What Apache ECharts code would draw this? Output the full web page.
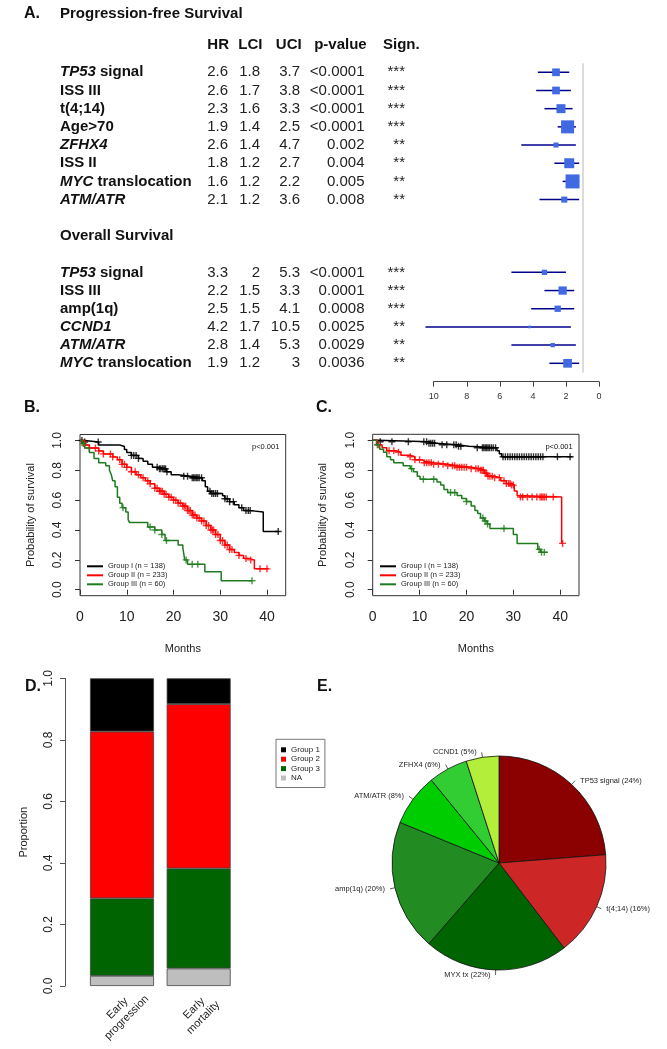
<!DOCTYPE html>
<html>
<head>
<meta charset="utf-8">
<script src="https://cdn.jsdelivr.net/npm/echarts@6/dist/echarts.min.js"></script>
<style>html,body{margin:0;padding:0;background:#fff}#main{width:667px;height:1049px}</style>
</head>
<body>
<div id="main"></div>
<script>
var myChart = echarts.init(document.getElementById('main'));

// ---- A. hazard ratios ----
var pfsGene = ['TP53', '', '', '', 'ZFHX4', '', 'MYC', 'ATM/ATR'];
var pfsText = [' signal', 'ISS III', 't(4;14)', 'Age>70', '', 'ISS II', ' translocation', ''];
var pfsHR = [2.6, 2.6, 2.3, 1.9, 2.6, 1.8, 1.6, 2.1];
var pfsLCI = [1.8, 1.7, 1.6, 1.4, 1.4, 1.2, 1.2, 1.2];
var pfsUCI = [3.7, 3.8, 3.3, 2.5, 4.7, 2.7, 2.2, 3.6];
var pfsP = ['<0.0001', '<0.0001', '<0.0001', '<0.0001', '0.002', '0.004', '0.005', '0.008'];
var pfsSign = ['***', '***', '***', '***', '**', '**', '**', '**'];
var pfsWeight = [0.55, 0.55, 0.64, 0.93, 0.36, 0.71, 1.0, 0.43];

var osGene = ['TP53', '', '', 'CCND1', 'ATM/ATR', 'MYC'];
var osText = [' signal', 'ISS III', 'amp(1q)', '', '', ' translocation'];
var osHR = [3.3, 2.2, 2.5, 4.2, 2.8, 1.9];
var osLCI = [2, 1.5, 1.5, 1.7, 1.4, 1.2];
var osUCI = [5.3, 3.3, 4.1, 10.5, 5.3, 3];
var osP = ['<0.0001', '0.0001', '0.0008', '0.0025', '0.0029', '0.0036'];
var osSign = ['***', '***', '***', '**', '**', '**'];
var osWeight = [0.38, 0.59, 0.45, 0.19, 0.31, 0.62];

// ---- B. progression-free survival (months, survival) ----
var pfsG1 = [[0,1],[1,0.99],[4,0.97],[8.5,0.96],[9.5,0.94],[10,0.92],[11,0.9],[12.5,0.88],[13.5,0.86],[14.5,0.84],[15.5,0.82],[17,0.81],[18.5,0.79],[19.5,0.77],[21,0.76],[23.5,0.75],[26.2,0.73],[26.8,0.69],[27.3,0.66],[28,0.645],[30.5,0.63],[31,0.61],[32,0.59],[33,0.57],[34,0.55],[35,0.53],[36.5,0.52],[39.2,0.39],[42.6,0.39]];
var pfsG2 = [[0,1],[1,0.97],[2,0.95],[4,0.93],[5,0.91],[7,0.89],[8,0.87],[9,0.84],[10,0.82],[11,0.79],[12,0.77],[13,0.75],[14,0.73],[15,0.71],[16,0.68],[17,0.66],[18,0.64],[19,0.62],[20,0.6],[21,0.58],[22,0.56],[23,0.53],[24,0.5],[25,0.48],[26,0.46],[27,0.43],[28,0.4],[29,0.37],[30,0.33],[31,0.3],[32,0.27],[33,0.25],[34,0.23],[35,0.21],[36,0.2],[37.3,0.14],[40.3,0.14]];
var pfsG3 = [[0,1],[0.5,0.98],[1,0.95],[2,0.92],[3,0.88],[4,0.85],[5.5,0.83],[6.3,0.8],[6.7,0.77],[7,0.73],[7.5,0.69],[8,0.62],[8.5,0.58],[9,0.55],[9.8,0.52],[10.3,0.47],[10.6,0.45],[14.5,0.42],[16,0.4],[17.5,0.37],[18.2,0.33],[21,0.3],[22,0.28],[22.4,0.2],[23,0.17],[26.7,0.12],[30.2,0.06],[36.8,0.06]];
var pfsG1Cens = [0.4, 1, 3.9, 11, 11.5, 12, 12.5, 16.5, 17, 17.3, 17.7, 18, 18.3, 18.6, 22.2, 23, 24, 24.3, 24.6, 24.9, 25.2, 25.5, 26, 27.8, 28.2, 28.6, 29, 29.4, 31, 31.5, 32, 32.8, 34.6, 35.5, 36, 36.4, 42.4];
var pfsG2Cens = [1, 2, 3.3, 4, 5, 6.5, 7, 8.5, 9, 9.5, 10, 11, 11.8, 12.5, 13.5, 14.5, 15, 16, 16.5, 17, 17.3, 17.6, 18, 18.4, 19, 19.5, 20, 20.5, 21, 21.5, 22, 22.3, 22.6, 23, 23.3, 23.6, 24, 24.3, 24.6, 25, 25.5, 26, 26.5, 27, 27.5, 28, 28.3, 28.6, 29, 29.5, 30, 30.5, 31, 31.5, 32, 32.5, 34, 35.5, 36.5, 38.5, 40];
var pfsG3Cens = [0.7, 9.2, 15, 16, 17.5, 18.5, 22.7, 24, 25.2, 36.8];

// ---- C. overall survival ----
var osG1 = [[0,1],[1,0.99],[12,0.98],[13.5,0.97],[18,0.96],[20.5,0.95],[26.5,0.93],[27,0.91],[27.5,0.89],[42.6,0.89]];
var osG2 = [[0,1],[1,0.97],[2,0.95],[3,0.93],[5,0.92],[6,0.9],[8,0.89],[9,0.87],[10.5,0.86],[11,0.85],[13,0.84],[16,0.83],[18,0.82],[21,0.81],[23,0.8],[23.8,0.78],[24.5,0.76],[26,0.75],[27.3,0.73],[28.5,0.71],[29.5,0.7],[30.2,0.66],[30.8,0.63],[31,0.62],[40.3,0.31],[40.5,0.31]];
var osG3 = [[0,1],[0.8,0.97],[1.5,0.94],[2.3,0.92],[3,0.89],[3.8,0.87],[4.5,0.85],[6.5,0.83],[8,0.81],[8.7,0.79],[9.5,0.76],[10.1,0.74],[13.7,0.72],[14.5,0.7],[15.2,0.67],[16,0.65],[18,0.63],[19,0.61],[20,0.59],[21,0.56],[21.8,0.53],[22.4,0.51],[23,0.48],[23.8,0.46],[24.4,0.44],[25,0.41],[30,0.37],[30.8,0.31],[35.2,0.27],[35.8,0.25],[37.3,0.25]];
var osG1Cens = [1.6, 4.1, 7.6, 10.9, 11.5, 12, 12.4, 12.8, 13.2, 14.8, 15.8, 17.3, 17.8, 18.3, 18.8, 22.3, 23.4, 23.7, 24, 24.3, 24.6, 24.9, 25.3, 25.7, 26.2, 27.8, 28.3, 28.8, 29.3, 29.8, 30.3, 30.8, 31.3, 31.8, 32.3, 32.8, 33.3, 33.8, 34.3, 34.8, 35.3, 35.8, 36.3, 39.4, 42.1];
var osG2Cens = [1.2, 3.5, 4.5, 5.5, 8, 9, 10, 11, 11.5, 12, 12.5, 13, 14, 15, 16, 17, 17.5, 18, 18.5, 19, 19.5, 20, 21, 22, 22.5, 23, 23.3, 23.6, 24, 24.3, 24.6, 25, 25.5, 26, 27, 28, 28.5, 29, 29.3, 29.6, 30, 31.5, 32, 33, 34, 35, 35.7, 36, 36.3, 36.6, 37, 38.5, 40.5];
var osG3Cens = [1, 8.3, 10.8, 13, 16.6, 17.5, 20, 23.5, 24, 24.5, 28, 35.5, 36, 36.6];

var groupNames = ['Group I (n = 138)', 'Group II (n = 233)', 'Group III (n = 60)'];
var monthTicks = [0, 10, 20, 30, 40];
var probTicks = [0, 0.2, 0.4, 0.6, 0.8, 1];

// ---- D. proportions ----
var barCats = ['Early\nprogression', 'Early\nmortality'];
var barNA = [0.033, 0.057];
var barG3 = [0.252, 0.325];
var barG2 = [0.542, 0.534];
var barG1 = [0.173, 0.084];

// ---- E. pie ----
var pieNames = ['TP53 signal', 't(4;14)', 'MYX tx', 'amp(1q)', 'ATM/ATR', 'ZFHX4', 'CCND1'];
var piePct = [24, 16, 22, 20, 8, 6, 5];
var pieColors = ['#8B0000', '#CD2626', '#006400', '#228B22', '#00CD00', '#32CD32', '#B3EE3A'];

var FONT = '"Liberation Sans", Arial, sans-serif';
var kmColors = ['#000000', '#FF0000', '#1E7B1E'];
var plus = 'path://M4,0H6V4H10V6H6V10H4V6H0V4H4Z';

// table rows for the forest plot
var rows = [];
function addRows(gene, text, hr, lci, uci, p, sign, w) {
    for (var i = 0; i < hr.length; i++) {
        rows.push({gene: gene[i], text: text[i], hr: hr[i], lci: lci[i], uci: uci[i], p: p[i], sign: sign[i], w: w[i]});
    }
}
addRows(pfsGene, pfsText, pfsHR, pfsLCI, pfsUCI, pfsP, pfsSign, pfsWeight);
rows.push({});
rows.push({heading: 'Overall Survival'});
rows.push({});
addRows(osGene, osText, osHR, osLCI, osUCI, osP, osSign, osWeight);

var forestData = [];
rows.forEach(function (r, i) {
    if (r.hr != null) forestData.push([i, r.hr, r.lci, r.uci, r.w]);
});

function survAt(curve, t) {
    var s = curve[0][1];
    for (var k = 0; k < curve.length; k++) if (curve[k][0] <= t) s = curve[k][1];
    return s;
}

function kmSeries(axis, curves, cens) {
    var out = [];
    curves.forEach(function (c, g) {
        out.push({
            type: 'line', name: groupNames[g], xAxisIndex: axis, yAxisIndex: axis,
            data: c, step: 'end', symbol: 'none',
            lineStyle: {width: 1.5, color: kmColors[g]}, itemStyle: {color: kmColors[g]}
        });
        out.push({
            type: 'scatter', name: 'cens' + axis + g, xAxisIndex: axis, yAxisIndex: axis,
            data: cens[g].map(function (t) { return [t, survAt(c, t)]; }),
            symbol: plus, symbolSize: 7, itemStyle: {color: kmColors[g]}
        });
    });
    return out;
}

function kmX(gi) {
    return {
        gridIndex: gi, type: 'value', min: 0, max: 44,
        axisLine: {show: false}, splitLine: {show: false},
        axisTick: {show: true, customValues: monthTicks, length: 5, lineStyle: {color: '#333'}},
        axisLabel: {customValues: monthTicks, fontSize: 14, color: '#222', margin: 14},
        name: 'Months', nameLocation: 'middle', nameGap: 48,
        nameTextStyle: {fontSize: 11, color: '#222'}
    };
}
function kmY(gi) {
    return {
        gridIndex: gi, type: 'value', min: -0.04, max: 1.04,
        axisLine: {show: false}, splitLine: {show: false},
        axisTick: {show: true, customValues: probTicks, length: 5, lineStyle: {color: '#333'}},
        axisLabel: {customValues: probTicks, rotate: 90, fontSize: 12, color: '#222', margin: 16,
            formatter: function (v) { return v.toFixed(1); }},
        name: 'Probability of survival', nameLocation: 'middle', nameGap: 44,
        nameTextStyle: {fontSize: 11, color: '#222'}
    };
}

function txt(x, y, s, font, align) {
    return {type: 'text', x: x, y: y, silent: true,
        style: {text: s, font: font, fill: '#111', align: align || 'left', verticalAlign: 'middle'}};
}

var bold15 = 'bold 15px ' + FONT;
var bold16 = 'bold 16px ' + FONT;

option = {
    animation: false,
    textStyle: {fontFamily: FONT},
    grid: [
        {left: 433.7, width: 165.3, top: 63.2, height: 309.2},
        {left: 80, width: 205.7, top: 434.5, height: 161.2, show: true, borderColor: '#333', borderWidth: 1},
        {left: 372.7, width: 206.3, top: 434.3, height: 161.4, show: true, borderColor: '#333', borderWidth: 1},
        {left: 83.65, width: 153.35, top: 678.3, height: 307.7}
    ],
    xAxis: [
        {gridIndex: 0, type: 'value', min: 0, max: 10, interval: 2, inverse: true, offset: 9.3,
            axisLine: {show: true, lineStyle: {color: '#444'}},
            axisTick: {show: true, length: 5, lineStyle: {color: '#444'}},
            axisLabel: {fontSize: 9, color: '#333', margin: 10}, splitLine: {show: false}},
        kmX(1),
        kmX(2),
        {gridIndex: 3, type: 'category', data: barCats,
            axisLine: {show: false}, axisTick: {show: false},
            axisLabel: {rotate: 45, align: 'center', verticalAlign: 'middle',
                fontSize: 11, lineHeight: 13, color: '#222', margin: 27}}
    ],
    yAxis: [
        {gridIndex: 0, type: 'category', inverse: true,
            data: rows.map(function (r, i) { return 'r' + i; }),
            axisLine: {show: false}, axisTick: {show: false},
            axisLabel: {
                interval: 0, margin: 28.7, width: 345, color: '#111', fontSize: 15,
                formatter: function (v, i) {
                    var r = rows[i];
                    if (r.heading) return '{nb|' + r.heading + '}';
                    if (r.hr == null) return '';
                    var s = '';
                    if (r.gene) s += '{ni|' + r.gene + '}';
                    if (r.text) s += '{nb|' + r.text + '}';
                    return s + '{hr|' + r.hr + '}{lci|' + r.lci + '}{uci|' + r.uci + '}{p|' + r.p + '}{sg|' + r.sign + '}';
                },
                rich: {
                    ni: {fontSize: 15, fontWeight: 'bold', fontStyle: 'italic', align: 'left', color: '#111'},
                    nb: {fontSize: 15, fontWeight: 'bold', align: 'left', color: '#111'},
                    hr: {fontSize: 15, width: 28, align: 'right', color: '#222'},
                    lci: {fontSize: 15, width: 32, align: 'right', color: '#222'},
                    uci: {fontSize: 15, width: 40, align: 'right', color: '#222'},
                    p: {fontSize: 15, width: 64.5, align: 'right', color: '#222'},
                    sg: {fontSize: 15, width: 40.5, align: 'right', color: '#222'}
                }
            }},
        kmY(1),
        kmY(2),
        {gridIndex: 3, type: 'value', min: 0, max: 1, interval: 0.2, offset: 18.65,
            axisLine: {show: true, lineStyle: {color: '#555'}},
            axisTick: {show: true, length: 5, lineStyle: {color: '#555'}},
            axisLabel: {rotate: 90, fontSize: 12, color: '#222', margin: 10,
                formatter: function (v) { return v.toFixed(1); }},
            splitLine: {show: false},
            name: 'Proportion', nameLocation: 'middle', nameGap: 36,
            nameTextStyle: {fontSize: 11, color: '#222'}}
    ],
    legend: [
        {data: groupNames, left: 87, top: 561.8, orient: 'vertical', icon: 'rect',
            itemWidth: 16, itemHeight: 2, itemGap: 0, padding: 0, selectedMode: false,
            textStyle: {fontSize: 7.5, lineHeight: 9, color: '#222'}},
        {data: groupNames, left: 380, top: 561.8, orient: 'vertical', icon: 'rect',
            itemWidth: 16, itemHeight: 2, itemGap: 0, padding: 0, selectedMode: false,
            textStyle: {fontSize: 7.5, lineHeight: 9, color: '#222'}},
        {data: ['Group 1', 'Group 2', 'Group 3', 'NA'], left: 276, top: 739.3, orient: 'vertical',
            icon: 'rect', itemWidth: 5, itemHeight: 5, itemGap: 0.4, padding: [6, 5, 5, 5],
            borderColor: '#777', borderWidth: 1, selectedMode: false,
            itemStyle: {borderWidth: 0},
            textStyle: {fontSize: 8, lineHeight: 9, color: '#222'}}
    ],
    graphic: [
        txt(24, 14, 'A.', bold16),
        txt(60, 14, 'Progression-free Survival', bold15),
        txt(229, 45, 'HR', bold15, 'right'),
        txt(262.5, 45, 'LCI', bold15, 'right'),
        txt(301.7, 45, 'UCI', bold15, 'right'),
        txt(366.7, 45, 'p-value', bold15, 'right'),
        txt(383, 45, 'Sign.', bold15),
        txt(24, 408, 'B.', bold16),
        txt(316, 408, 'C.', bold16),
        txt(25, 687, 'D.', bold16),
        txt(317, 687, 'E.', bold16),
        txt(279.3, 447.3, 'p<0.001', '7.5px ' + FONT, 'right'),
        txt(572.7, 447.3, 'p<0.001', '7.5px ' + FONT, 'right')
    ],
    series: [
        {
            type: 'custom', xAxisIndex: 0, yAxisIndex: 0, data: forestData,
            encode: {x: [1, 2, 3], y: 0},
            renderItem: function (params, api) {
                var row = api.value(0);
                var lo = api.coord([api.value(2), row]);
                var hi = api.coord([api.value(3), row]);
                var mid = api.coord([api.value(1), row]);
                var s = 14 * api.value(4);
                return {type: 'group', children: [
                    {type: 'line', shape: {x1: lo[0], y1: lo[1], x2: hi[0], y2: hi[1]},
                        style: {stroke: '#00008B', lineWidth: 1.5}},
                    {type: 'rect', shape: {x: mid[0] - s / 2, y: mid[1] - s / 2, width: s, height: s},
                        style: {fill: '#4169E1'}}
                ]};
            },
            markLine: {silent: true, symbol: 'none', label: {show: false},
                lineStyle: {color: '#cfcfcf', width: 1.5, type: 'solid'},
                data: [{xAxis: 1}]}
        }
    ]
        .concat(kmSeries(1, [pfsG1, pfsG2, pfsG3], [pfsG1Cens, pfsG2Cens, pfsG3Cens]))
        .concat(kmSeries(2, [osG1, osG2, osG3], [osG1Cens, osG2Cens, osG3Cens]))
        .concat([
            {type: 'bar', name: 'NA', stack: 'd', xAxisIndex: 3, yAxisIndex: 3, data: barNA, barWidth: 64,
                itemStyle: {color: '#BEBEBE', borderColor: '#444', borderWidth: 0.8}},
            {type: 'bar', name: 'Group 3', stack: 'd', xAxisIndex: 3, yAxisIndex: 3, data: barG3, barWidth: 64,
                itemStyle: {color: '#006400', borderColor: '#444', borderWidth: 0.8}},
            {type: 'bar', name: 'Group 2', stack: 'd', xAxisIndex: 3, yAxisIndex: 3, data: barG2, barWidth: 64,
                itemStyle: {color: '#FF0000', borderColor: '#444', borderWidth: 0.8}},
            {type: 'bar', name: 'Group 1', stack: 'd', xAxisIndex: 3, yAxisIndex: 3, data: barG1, barWidth: 64,
                itemStyle: {color: '#000000', borderColor: '#444', borderWidth: 0.8}},
            {
                type: 'pie', center: [499, 863], radius: 107, startAngle: 90, clockwise: true,
                avoidLabelOverlap: false,
                data: pieNames.map(function (n, i) {
                    return {name: n, value: piePct[i], itemStyle: {color: pieColors[i]}};
                }),
                itemStyle: {borderColor: '#111', borderWidth: 0.8},
                label: {position: 'outside', formatter: '{b} ({c}%)', fontSize: 7.5, color: '#222'},
                labelLine: {length: 5, length2: 0, lineStyle: {color: '#333', width: 0.8}},
                emphasis: {disabled: true}
            }
        ])
};

myChart.setOption(option);
</script>
</body>
</html>
